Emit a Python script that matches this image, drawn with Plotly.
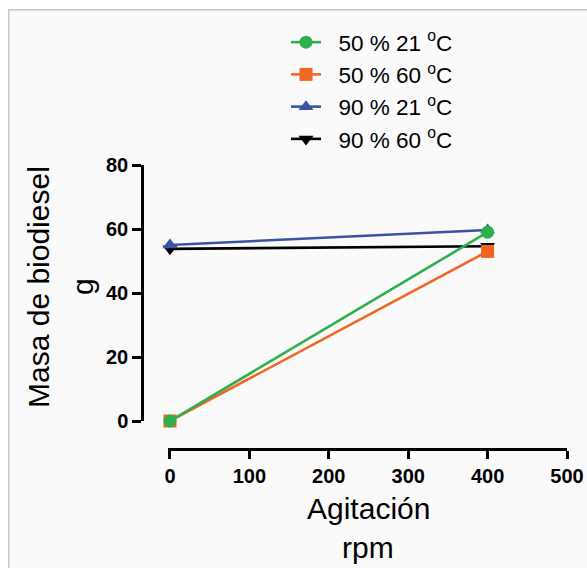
import plotly.graph_objects as go

agitacion = [0, 400]
s50_21 = [0, 59]
s50_60 = [0, 53]
s90_21 = [55, 59.7]
s90_60 = [53.8, 54.6]

names = ["50 % 21 <sup>o</sup>C", "50 % 60 <sup>o</sup>C", "90 % 21 <sup>o</sup>C", "90 % 60 <sup>o</sup>C"]
colors = ["#2eb04b", "#f26522", "#3a53a4", "#000000"]
symbols = ["circle", "square", "triangle-up", "triangle-down"]
series = [s50_21, s50_60, s90_21, s90_60]

W, H = 587, 568
# target pixel positions of plot area
L, T = 142, 165
R = W - 567
B = H - 449
pw, ph = W - L - R, H - T - B

def px(x):
    return (x - L) / pw

def py(y):
    return (H - B - y) / ph

fig = go.Figure()
draw_order = [3, 2, 1, 0]
for i in draw_order:
    fig.add_trace(go.Scatter(
        x=agitacion, y=series[i], name="\u00a0\u00a0" + names[i], mode="lines+markers",
        line=dict(color=colors[i], width=2.6),
        marker=dict(symbol=symbols[i], size=13, color=colors[i]),
        legendrank=i + 1, cliponaxis=False,
    ))

font = "Arial, Liberation Sans, sans-serif"
fig.update_layout(
    width=W, height=H,
    margin=dict(l=L, r=R, t=T, b=B, autoexpand=False),
    paper_bgcolor="white", plot_bgcolor="rgba(0,0,0,0)",
    font=dict(family=font, color="black"),
    showlegend=True,
    legend=dict(xref="container", yref="container",
                x=286 / W, y=1 - 21 / H, xanchor="left", yanchor="top",
                font=dict(size=22.5), bgcolor="rgba(0,0,0,0)",
                tracegroupgap=0, itemwidth=30),
    xaxis=dict(domain=[px(168), 1], range=[-2.5, 500], anchor="free", position=0,
               automargin=False,
               showline=True, linewidth=2.5, linecolor="black", showgrid=False, zeroline=False,
               ticks="outside", ticklen=8, tickwidth=2.5, tickcolor="black",
               tickvals=[0, 100, 200, 300, 400, 500],
               tickfont=dict(size=20, family=font, weight="bold")),
    yaxis=dict(domain=[py(421), 1], range=[0, 80], anchor="free", position=0,
               automargin=False,
               showline=True, linewidth=2.5, linecolor="black", showgrid=False, zeroline=False,
               ticks="outside", ticklen=9, tickwidth=2.5, tickcolor="black",
               tickvals=[0, 20, 40, 60, 80],
               tickfont=dict(size=20, family=font, weight="bold")),
    shapes=[dict(type="rect", xref="paper", yref="paper", layer="below",
                 x0=px(8.75), x1=px(620), y0=py(600), y1=py(9.75),
                 fillcolor="#fafafa", line=dict(color="#c8c8c8", width=1.5))],
    annotations=[
        dict(text="Masa de biodiesel", xref="paper", yref="paper",
             x=px(38), y=py(287), textangle=-90, showarrow=False,
             font=dict(size=30, family=font), xanchor="center", yanchor="middle"),
        dict(text="g", xref="paper", yref="paper",
             x=px(82), y=py(287), textangle=-90, showarrow=False,
             font=dict(size=30, family=font), xanchor="center", yanchor="middle"),
        dict(text="Agitación", xref="paper", yref="paper",
             x=px(368), y=py(508), showarrow=False,
             font=dict(size=30, family=font), xanchor="center", yanchor="middle"),
        dict(text="rpm", xref="paper", yref="paper",
             x=px(368), y=py(547), showarrow=False,
             font=dict(size=30, family=font), xanchor="center", yanchor="middle"),
    ],
)

fig.write_html("out.html", config={"displayModeBar": False},
               post_script="document.body.style.margin='0px';document.body.style.overflow='hidden';")
